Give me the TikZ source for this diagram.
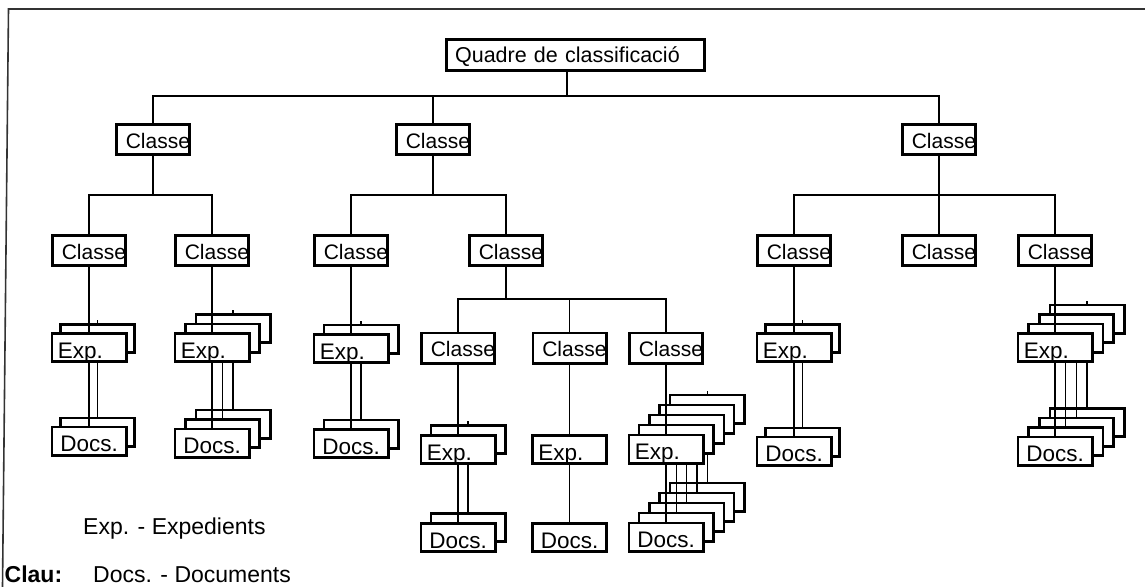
\documentclass[tikz,border=0pt]{standalone}
\usepackage{fontspec}
\setmainfont{Liberation Sans}
\usetikzlibrary{calc}

% A stack of file boxes (Exp.) above a stack of document boxes (Docs.),
% one connector per layer; layer 0 is the front one.
% #1 name, #2 layers, #3 x step, #4 y step, #5 x, #6 y of files, #7 y of documents
\newcommand\filestack[7]{%
  \pgfmathtruncatemacro\toplayer{#2-1}%
  \foreach \i in {\toplayer,...,0}{%
    \node[expbox] (#1-e\i) at ({#5+\i*#3},{#6-\i*#4}) {\ifnum\i=0 Exp.\fi};
    \node[docbox] (#1-d\i) at ({#5+\i*#3},{#7-\i*#4}) {\ifnum\i=0 Docs.\fi};
    \draw[wire] (#1-e\i.south) -- (#1-d\i.north);
  }%
  \ifnum\toplayer>0 \draw[wire] (#1-e\toplayer.north) -- ++(0,-3);\fi
}

\begin{document}
\begin{tikzpicture}[x=1pt,y=-1pt,
  frame/.style={line width=1.6pt, draw=black!80},
  wire/.style={line width=1.3pt},
  box/.style={draw, line width=2.6pt, fill=white, inner ysep=0pt, align=left},
  topbox/.style={box, inner xsep=8.8pt, text width=240.8pt, minimum height=31.4pt,
    text height=15.4pt, text depth=0pt, font=\fontsize{21.5}{22}\selectfont},
  classbox/.style={box, inner xsep=9.5pt, text width=54.4pt, minimum height=30.4pt,
    text height=17.6pt, text depth=0pt, font=\fontsize{21}{22}\selectfont},
  expbox/.style={box, inner xsep=6pt, text width=62.4pt, minimum height=28.4pt,
    text height=21pt, text depth=0pt, font=\fontsize{22.5}{23}\selectfont},
  docbox/.style={expbox, inner xsep=8.5pt, text width=57.4pt},
  keytext/.style={anchor=base west, inner sep=0pt, font=\fontsize{23}{24}\selectfont}
]
\useasboundingbox (0,0) rectangle (1145,586);

% outer frame
\draw[frame] (1146,9) -- (8.5,9) -- (2.5,587);

% root
\node[topbox] (Q) at (575.5,55) {Quadre de classificació};

% first level
\node[classbox] (K1) at (153,139.5) {Classe};
\node[classbox] (K2) at (433,139.5) {Classe};
\node[classbox] (K3) at (939,139.5) {Classe};

% second level
\node[classbox] (K1a) at (89,250.5) {Classe};
\node[classbox] (K1b) at (212,250.5) {Classe};
\node[classbox] (K2a) at (351,250.5) {Classe};
\node[classbox] (K2b) at (506,250.5) {Classe};
\node[classbox] (K3a) at (794,250.5) {Classe};
\node[classbox] (K3b) at (939,250.5) {Classe};
\node[classbox] (K3c) at (1055,250.5) {Classe};

% third level
\node[classbox] (K2b1) at (458,348) {Classe};
\node[classbox] (K2b2) at (569.5,348) {Classe};
\node[classbox] (K2b3) at (666,348) {Classe};

% tree connectors
\foreach \c in {K1,K2,K3}
  \draw[wire] ([xshift=-8.5pt]Q.south) -- ++(0,24) -| (\c.north);
\foreach \c in {K1a,K1b}
  \draw[wire] (K1.south) -- ++(0,39) -| (\c.north);
\foreach \c in {K2a,K2b}
  \draw[wire] (K2.south) -- ++(0,39) -| (\c.north);
\foreach \c in {K3a,K3b,K3c}
  \draw[wire] (K3.south) -- ++(0,39) -| (\c.north);
\foreach \c in {K2b1,K2b2,K2b3}
  \draw[wire] (K2b.south) -- ++(0,32) -| (\c.north);

% files and documents
\filestack{A}{2}{8.5}{9}{89}{347.5}{441}
\draw[wire] (K1a.south) -- (A-e0.north);
\filestack{B}{3}{10.5}{9.5}{212}{347.5}{443}
\draw[wire] (K1b.south) -- (B-e0.north);
\filestack{C}{2}{10}{9.5}{351}{348.5}{443.5}
\draw[wire] (K2a.south) -- (C-e0.north);
\filestack{D}{2}{10}{10}{458}{449.5}{537.5}
\draw[wire] (K2b1.south) -- (D-e0.north);
\filestack{E}{1}{10}{10}{569.5}{449.5}{537.5}
\draw[wire] (K2b2.south) -- (E-e0.north);
\filestack{F}{5}{10.3}{10}{666}{449}{537}
\draw[wire] (K2b3.south) -- (F-e0.north);
\filestack{G}{2}{8.5}{9}{794}{347.5}{451}
\draw[wire] (K3a.south) -- (G-e0.north);
\filestack{H}{4}{10.7}{9.5}{1055}{347.5}{451}
\draw[wire] (K3c.south) -- (H-e0.north);

% key
\node[keytext] (kexp) at (83,534) {Exp. - Expedients};
\node[keytext, font=\fontsize{23}{24}\selectfont\bfseries] (kkey) at (4.5,582.5) {Clau:};
\node[keytext] (kdoc) at (93,582.5) {Docs. - Documents};
\end{tikzpicture}
\end{document}
